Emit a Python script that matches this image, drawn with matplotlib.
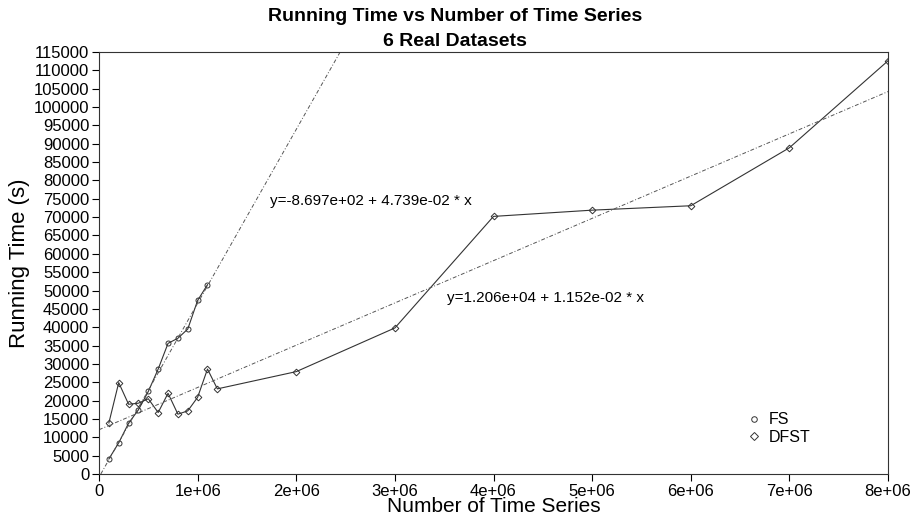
import matplotlib
matplotlib.use("Agg")
import matplotlib.pyplot as plt
from matplotlib.lines import Line2D
import numpy as np

plt.rcParams['font.family'] = ['Liberation Sans', 'DejaVu Sans']

# FS: steep series, only up to 1.1e6 series
fs_n = [1e5, 2e5, 3e5, 4e5, 5e5, 6e5, 7e5, 8e5, 9e5, 1e6, 1.1e6]
fs_time = [4100, 8500, 13850, 17500, 22500, 28600, 35600, 37000, 39500, 47300, 51600]

# DFST: goes all the way to 8e6
dfst_n = [1e5, 2e5, 3e5, 4e5, 5e5, 6e5, 7e5, 8e5, 9e5, 1e6, 1.1e6, 1.2e6,
          2e6, 3e6, 4e6, 5e6, 6e6, 7e6, 8e6]
dfst_time = [13900, 24900, 19000, 19300, 20500, 16750, 22000, 16300, 17200, 20900,
             28600, 23200, 27900, 39800, 70200, 71900, 73100, 88900, 112600]

# linear fits (intercept, slope) as printed on the chart
fs_fit = (-8.697e+02, 4.739e-02)
dfst_fit = (1.206e+04, 1.152e-02)

fig = plt.figure(figsize=(9.14, 5.16), dpi=100)
ax = fig.add_axes([99/914, 1-474/516, (888-99)/914, (474-52)/516])

ax.plot(fs_n, fs_time, color='#333333', lw=0.8, marker='o', ms=3.6,
        mfc='none', mec='#333333', mew=0.7)
ax.plot(dfst_n, dfst_time, color='#333333', lw=0.8, marker='D', ms=3.4,
        mfc='none', mec='#333333', mew=0.7)

for b0, b1 in (fs_fit, dfst_fit):
    ax.axline((0, b0), slope=b1, color='#555555', lw=0.7, ls=(0, (4, 2, 1, 2)))

ax.text(1.73e6, 74500, f"y={fs_fit[0]:.3e} + {fs_fit[1]:.3e} * x",
        fontsize=11, va='center', ha='left')
ax.text(3.53e6, 48000, f"y={dfst_fit[0]:.3e} + {dfst_fit[1]:.3e} * x",
        fontsize=11, va='center', ha='left')

ax.set_xlim(0, 8e6)
ax.set_ylim(0, 115000)
xt = np.arange(0, 8e6 + 1, 1e6)
ax.set_xticks(xt)
ax.set_xticklabels(['0'] + [f"{int(v/1e6)}e+06" for v in xt[1:]])
yt = np.arange(0, 115001, 5000)
ax.set_yticks(yt)
ax.set_yticklabels([str(int(v)) for v in yt])
ax.tick_params(direction='out', length=5, width=0.8, labelsize=12, pad=2)
for s in ax.spines.values():
    s.set_linewidth(0.8)
    s.set_color('#333333')

ax.set_xlabel("Number of Time Series", fontsize=15, labelpad=-1)
ax.set_ylabel("Running Time (s)", fontsize=16, labelpad=3)

fig.text(0.498, 0.985, "Running Time vs Number of Time Series\n6 Real Datasets",
         ha='center', va='top', fontsize=14, fontweight='bold', linespacing=1.6)

handles = [Line2D([], [], ls='none', marker='o', ms=4, mfc='none', mec='#333333', mew=0.7),
           Line2D([], [], ls='none', marker='D', ms=3.6, mfc='none', mec='#333333', mew=0.7)]
ax.legend(handles, ['FS', 'DFST'], loc='upper left', bbox_to_anchor=(0.8, 0.18),
          frameon=False, fontsize=11.5, handletextpad=0.3, labelspacing=0.15,
          handlelength=1.2)

fig.savefig('out.png', dpi=100)
